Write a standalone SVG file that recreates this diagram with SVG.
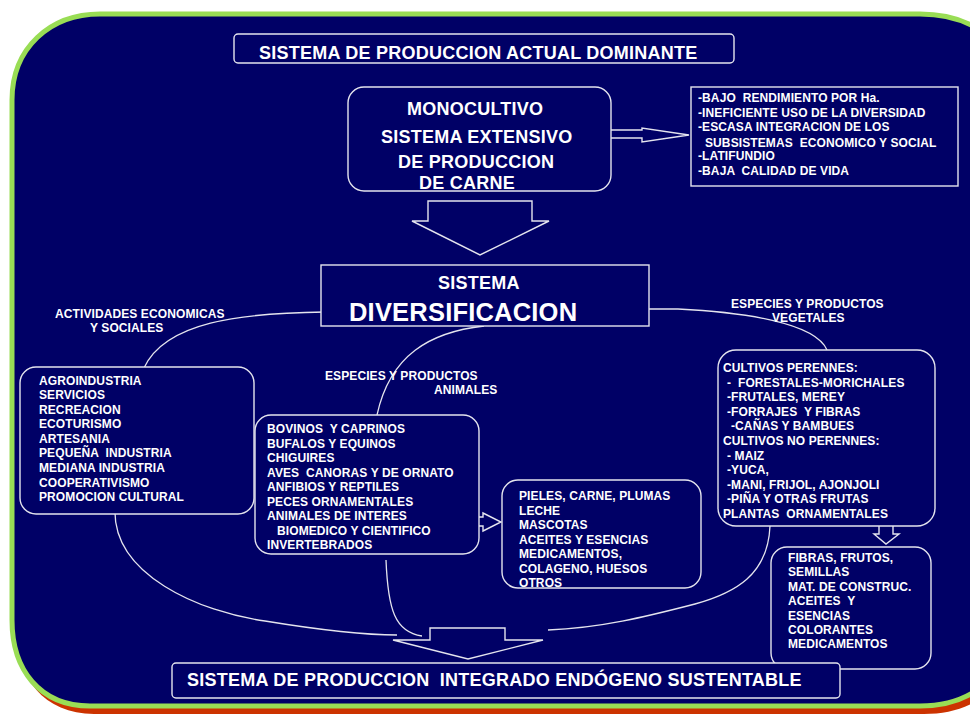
<svg xmlns="http://www.w3.org/2000/svg" width="970" height="717" viewBox="0 0 970 717" xml:space="preserve">
<style>
text { font-family: "Liberation Sans", Arial, sans-serif; font-weight: bold; fill: #ffffff; white-space: pre; }
.t12 { font-size: 12px; letter-spacing: 0.1px; }
.t18 { font-size: 18px; letter-spacing: 0.24px; }
.box { fill: #000066; stroke: #e4e4ee; stroke-width: 1.4; }
.conn { fill: none; stroke: #e4e4ee; stroke-width: 1.3; }
.barrow { fill: #000066; stroke: #e4e4ee; stroke-width: 1.4; stroke-linejoin: miter; }
</style>
<rect width="970" height="717" fill="#ffffff"/>
<g id="frame">
<path transform="translate(4,8)" d="M12,100 C12,48 50,14 100,14 L920,14 C960,14 990,30 1010,60 L1010,650 C990,690 960,706 920,706 L90,706 C40,706 12,670 12,620 Z" fill="#cc3300"/>
<path d="M12,100 C12,48 50,14 100,14 L920,14 C960,14 990,30 1010,60 L1010,650 C990,690 960,706 920,706 L90,706 C40,706 12,670 12,620 Z" fill="#000066" stroke="#99dd55" stroke-width="5"/>
</g>
<g id="connectors">
<path class="conn" d="M325,312 C240,313 165,322 144,368"/>
<path class="conn" d="M484,326 C430,332 390,355 377,415"/>
<path class="conn" d="M632,309 L678,309 C740,312 815,322 827,350"/>
<path class="conn" d="M115,508 C112,575 200,612 265,621 C320,630 360,635 397,635"/>
<path class="conn" d="M386,560 C388,610 395,632 422,636"/>
<path class="conn" d="M770,526 C768,575 735,593 695,604 C645,617 600,628 548,630"/>
<polygon class="barrow" points="592,130 642,130 642,128 689,135 642,142 642,138 592,138"/>
<polygon class="barrow" points="428,201 532,201 532,221 549,221 480,255 412,221 428,221"/>
<polygon class="barrow" points="464,517 483,517 483,513 501,522 483,531 483,526 464,526"/>
<polygon class="barrow" points="879,524 893,524 893,534 899,534 886,544 874,534 879,534"/>
<polygon class="barrow" points="430,628 505,628 505,640 543,640 468,659 393,640 430,640"/>
</g>
<g id="title">
<rect class="box" x="234" y="34" width="500" height="29" rx="4"/>
<text class="t18" x="259" y="59">SISTEMA DE PRODUCCION ACTUAL DOMINANTE</text>
</g>
<g id="monocultivo">
<rect class="box" x="348" y="87" width="263" height="104" rx="16"/>
<text class="t18" x="407" y="115">MONOCULTIVO</text>
<text class="t18" x="381" y="143">SISTEMA EXTENSIVO</text>
<text class="t18" x="398" y="168">DE PRODUCCION</text>
<text class="t18" x="419" y="189">DE CARNE</text>
</g>
<g id="problemas">
<rect class="box" x="691" y="87" width="267" height="99"/>
<text class="t12" x="698" y="101.5">-BAJO  RENDIMIENTO POR Ha.</text>
<text class="t12" x="698" y="116.5">-INEFICIENTE USO DE LA DIVERSIDAD</text>
<text class="t12" x="698" y="131">-ESCASA INTEGRACION DE LOS</text>
<text class="t12" x="705" y="146.5">SUBSISTEMAS  ECONOMICO Y SOCIAL</text>
<text class="t12" x="698" y="160">-LATIFUNDIO</text>
<text class="t12" x="698" y="175">-BAJA  CALIDAD DE VIDA</text>
</g>
<g id="diversificacion">
<rect class="box" x="321" y="265" width="328" height="61"/>
<text class="t18" x="438" y="289">SISTEMA</text>
<text x="349" y="321" style="font-size:25.5px;letter-spacing:0.2px">DIVERSIFICACION</text>
</g>
<g id="labels">
<text class="t12" x="55" y="318">ACTIVIDADES ECONOMICAS</text>
<text class="t12" x="90" y="332">Y SOCIALES</text>
<text class="t12" x="325" y="380">ESPECIES Y PRODUCTOS</text>
<text class="t12" x="434" y="394">ANIMALES</text>
<text class="t12" x="731" y="308">ESPECIES Y PRODUCTOS</text>
<text class="t12" x="772" y="322">VEGETALES</text>
</g>
<g id="actividades">
<rect class="box" x="20" y="367" width="234" height="147" rx="16"/>
<text class="t12" x="39" y="384.5">AGROINDUSTRIA</text>
<text class="t12" x="39" y="399">SERVICIOS</text>
<text class="t12" x="39" y="413.5">RECREACION</text>
<text class="t12" x="39" y="428">ECOTURISMO</text>
<text class="t12" x="39" y="442.7">ARTESANIA</text>
<text class="t12" x="39" y="457.3">PEQUEÑA  INDUSTRIA</text>
<text class="t12" x="39" y="472">MEDIANA INDUSTRIA</text>
<text class="t12" x="39" y="486.5">COOPERATIVISMO</text>
<text class="t12" x="39" y="501">PROMOCION CULTURAL</text>
</g>
<g id="animales">
<rect class="box" x="255" y="415" width="224" height="139" rx="16"/>
<text class="t12" x="267" y="433">BOVINOS  Y CAPRINOS</text>
<text class="t12" x="267" y="447.5">BUFALOS Y EQUINOS</text>
<text class="t12" x="267" y="462">CHIGUIRES</text>
<text class="t12" x="267" y="476.5">AVES  CANORAS Y DE ORNATO</text>
<text class="t12" x="267" y="491">ANFIBIOS Y REPTILES</text>
<text class="t12" x="267" y="505.5">PECES ORNAMENTALES</text>
<text class="t12" x="267" y="520">ANIMALES DE INTERES</text>
<text class="t12" x="277" y="534.5">BIOMEDICO Y CIENTIFICO</text>
<text class="t12" x="267" y="549">INVERTEBRADOS</text>
</g>
<g id="productos-animales">
<rect class="box" x="502" y="480" width="199" height="108" rx="16"/>
<text class="t12" x="519" y="500">PIELES, CARNE, PLUMAS</text>
<text class="t12" x="519" y="514.5">LECHE</text>
<text class="t12" x="519" y="529">MASCOTAS</text>
<text class="t12" x="519" y="543.5">ACEITES Y ESENCIAS</text>
<text class="t12" x="519" y="558">MEDICAMENTOS,</text>
<text class="t12" x="519" y="572.5">COLAGENO, HUESOS</text>
<text class="t12" x="519" y="587">OTROS</text>
</g>
<g id="vegetales">
<rect class="box" x="718" y="350" width="217" height="176" rx="18"/>
<text class="t12" x="723" y="372">CULTIVOS PERENNES:</text>
<text class="t12" x="727" y="386.6">-  FORESTALES-MORICHALES</text>
<text class="t12" x="727" y="401.2">-FRUTALES, MEREY</text>
<text class="t12" x="727" y="415.8">-FORRAJES  Y FIBRAS</text>
<text class="t12" x="731" y="430.4">-CAÑAS Y BAMBUES</text>
<text class="t12" x="723" y="445">CULTIVOS NO PERENNES:</text>
<text class="t12" x="727" y="459.6">- MAIZ</text>
<text class="t12" x="727" y="474.2">-YUCA,</text>
<text class="t12" x="727" y="488.8">-MANI, FRIJOL, AJONJOLI</text>
<text class="t12" x="727" y="503.4">-PIÑA Y OTRAS FRUTAS</text>
<text class="t12" x="723" y="518">PLANTAS  ORNAMENTALES</text>
</g>
<g id="productos-vegetales">
<rect class="box" x="771" y="547" width="160" height="122" rx="16"/>
<text class="t12" x="788" y="562">FIBRAS, FRUTOS,</text>
<text class="t12" x="788" y="576.4">SEMILLAS</text>
<text class="t12" x="788" y="590.8">MAT. DE CONSTRUC.</text>
<text class="t12" x="788" y="605.2">ACEITES  Y</text>
<text class="t12" x="788" y="619.6">ESENCIAS</text>
<text class="t12" x="788" y="634">COLORANTES</text>
<text class="t12" x="788" y="648.4">MEDICAMENTOS</text>
</g>
<g id="sistema-integrado">
<rect class="box" x="172" y="663" width="668" height="35" rx="4"/>
<text class="t18" x="187" y="686">SISTEMA DE PRODUCCION  INTEGRADO ENDÓGENO SUSTENTABLE</text>
</g>
</svg>
